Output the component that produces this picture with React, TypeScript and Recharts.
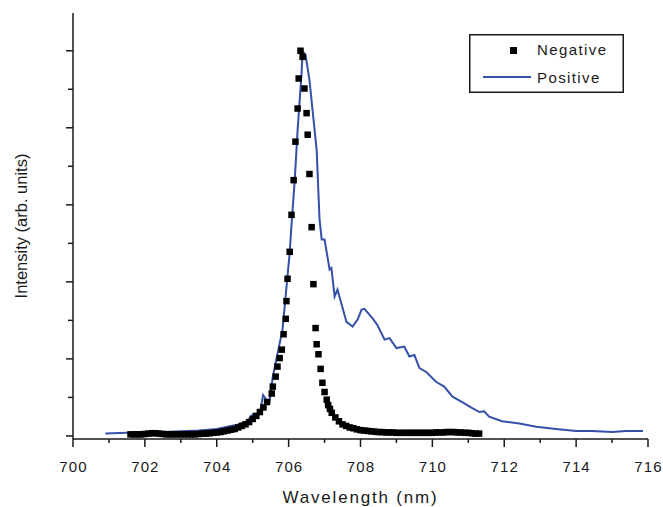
import { ComposedChart, Line, Scatter, XAxis, YAxis, Legend } from 'recharts';

// wavelength (nm) / normalised intensity
const negWl = [
  701.6, 701.7, 701.8, 701.9, 702.0, 702.1, 702.2, 702.3, 702.4, 702.5, 702.6, 702.7, 702.8, 702.9, 703.0,
  703.1, 703.2, 703.3, 703.4, 703.5, 703.6, 703.7, 703.8, 703.9, 704.0, 704.1, 704.2, 704.3, 704.4, 704.5,
  704.6, 704.7, 704.8, 704.9, 705.0, 705.1, 705.2, 705.3, 705.4, 705.53, 705.56, 705.64, 705.69, 705.75,
  705.81, 705.86, 705.92, 705.94, 705.97, 706.03, 706.08, 706.14, 706.19, 706.25, 706.28, 706.33, 706.39,
  706.44, 706.5, 706.53, 706.58, 706.64, 706.69, 706.75, 706.78, 706.83, 706.89, 706.94, 707.0, 707.06,
  707.1, 707.15, 707.2, 707.3, 707.4, 707.5, 707.6, 707.7, 707.8, 707.9, 708.0, 708.1, 708.2, 708.3, 708.4,
  708.5, 708.6, 708.7, 708.8, 708.9, 709.0, 709.1, 709.2, 709.3, 709.4, 709.5, 709.6, 709.7, 709.8, 709.9,
  710.0, 710.1, 710.2, 710.3, 710.4, 710.5, 710.6, 710.7, 710.8, 710.9, 711.0, 711.1, 711.2, 711.3,
];
const negInt = [
  0.02, 0.02, 0.02, 0.02, 0.025, 0.03, 0.035, 0.035, 0.03, 0.025, 0.02, 0.02, 0.02, 0.02, 0.02,
  0.02, 0.02, 0.02, 0.02, 0.025, 0.03, 0.03, 0.035, 0.04, 0.045, 0.05, 0.06, 0.07, 0.08, 0.09,
  0.11, 0.13, 0.15, 0.18, 0.22, 0.26, 0.31, 0.37, 0.44, 0.55, 0.64, 0.77, 0.9, 1.01,
  1.12, 1.32, 1.52, 1.75, 2.04, 2.39, 2.87, 3.32, 3.82, 4.25, 4.64, 5.0, 4.92,
  4.51, 4.19, 3.91, 3.4, 2.71, 1.97, 1.4, 1.19, 1.06, 0.87, 0.69, 0.57, 0.47,
  0.4, 0.35, 0.3, 0.24, 0.19, 0.15, 0.13, 0.11, 0.1, 0.085, 0.075, 0.07, 0.065, 0.06, 0.055,
  0.05, 0.05, 0.045, 0.045, 0.045, 0.04, 0.04, 0.04, 0.04, 0.04, 0.04, 0.04, 0.04, 0.04, 0.04,
  0.04, 0.045, 0.045, 0.045, 0.05, 0.05, 0.05, 0.045, 0.045, 0.04, 0.04, 0.035, 0.03, 0.03,
];

const posWl = [
  700.9, 701.5, 702.0, 702.5, 703.0, 703.5, 704.0, 704.3, 704.6, 704.85, 705.0, 705.14, 705.22, 705.29,
  705.38, 705.47, 705.56, 705.83, 706.03, 706.08, 706.17, 706.25, 706.36, 706.39, 706.47, 706.58, 706.78,
  706.86, 706.92, 707.0, 707.14, 707.19, 707.28, 707.36, 707.61, 707.78, 707.92, 708.03, 708.11, 708.33,
  708.47, 708.67, 708.81, 709.0, 709.22, 709.36, 709.5, 709.64, 709.83, 710.11, 710.33, 710.56, 710.83,
  711.11, 711.31, 711.44, 711.58, 711.94, 712.42, 712.89, 713.44, 714.0, 714.44, 715.0, 715.39, 715.86,
];
const posInt = [
  0.03, 0.04, 0.05, 0.05, 0.06, 0.07, 0.09, 0.12, 0.15, 0.19, 0.28, 0.27, 0.35, 0.53,
  0.47, 0.45, 0.77, 1.38, 2.38, 2.74, 3.32, 3.97, 4.71, 4.99, 4.95, 4.62, 3.71,
  2.81, 2.55, 2.55, 2.16, 2.18, 1.81, 1.9, 1.48, 1.42, 1.51, 1.64, 1.65, 1.53,
  1.44, 1.25, 1.27, 1.14, 1.16, 1.03, 1.05, 0.88, 0.83, 0.7, 0.64, 0.51, 0.44,
  0.36, 0.31, 0.32, 0.25, 0.19, 0.16, 0.12, 0.09, 0.065, 0.065, 0.05, 0.065, 0.065,
];

const wlTicks = [700, 701, 702, 703, 704, 705, 706, 707, 708, 709, 710, 711, 712, 713, 714, 715, 716];
const intTicks = [0, 0.5, 1, 1.5, 2, 2.5, 3, 3.5, 4, 4.5, 5];

const negative = negWl.map((x, i) => ({ x, y: negInt[i] }));
const positive = posWl.map((x, i) => ({ x, y: posInt[i] }));

const INK = '#1a1a1a';
const BLUE = '#3450a8';
const FONT = '"Liberation Sans", Arial, sans-serif';

const isMajorX = (v: number) => v % 2 === 0;
const isMajorY = (v: number) => Number.isInteger(v);

function BottomTick({ x, y, payload }: any) {
  const major = isMajorX(payload.value);
  return (
    <g>
      <line x1={x} x2={x} y1={y} y2={y + (major ? 8 : 4)} stroke={INK} strokeWidth={1.5} />
      {major && (
        <text x={x + 0.5} y={y + 33} textAnchor="middle" fontFamily={FONT} fontSize={15} letterSpacing={1.1} fill={INK}>
          {payload.value}
        </text>
      )}
    </g>
  );
}

function TopTick({ x, y, payload }: any) {
  const major = isMajorX(payload.value);
  return <line x1={x} x2={x} y1={y} y2={y + (major ? 7 : 3)} stroke={INK} strokeWidth={1.5} />;
}

function LeftTick({ x, y, payload }: any) {
  const major = isMajorY(payload.value);
  return <line x1={x} x2={x - (major ? 7 : 5)} y1={y} y2={y} stroke={INK} strokeWidth={1.5} />;
}

function RightTick({ x, y, payload }: any) {
  const major = isMajorY(payload.value);
  return <line x1={x} x2={x - (major ? 7 : 3)} y1={y} y2={y} stroke={INK} strokeWidth={1.5} />;
}

function Square({ cx, cy }: any) {
  return <rect x={cx - 3.25} y={cy - 3.25} width={6.5} height={6.5} fill="#000" />;
}

function LegendBox() {
  return (
    <svg width={155} height={59} style={{ display: 'block' }}>
      <rect x={0.75} y={0.75} width={153.5} height={57.5} fill="#fff" stroke={INK} strokeWidth={1.5} />
      <rect x={41} y={13} width={7} height={7} fill="#000" />
      <text x={68} y={21} fontFamily={FONT} fontSize={15} letterSpacing={1.4} fill={INK}>Negative</text>
      <line x1={14} x2={62} y1={43} y2={43} stroke={BLUE} strokeWidth={2} />
      <text x={68} y={49} fontFamily={FONT} fontSize={15} letterSpacing={1.4} fill={INK}>Positive</text>
    </svg>
  );
}

export default function App() {
  const axisLine = { stroke: INK, strokeWidth: 1.5 };
  // fixed at the window origin so the page never overflows (no scrollbars)
  return (
    <div style={{ position: 'fixed', left: 0, top: 0, width: 663, height: 507, background: '#fff' }}>
      <ComposedChart width={663} height={507} margin={{ top: 13, right: 15, left: 0, bottom: 0 }}>
        <XAxis
          xAxisId="b"
          dataKey="x"
          type="number"
          domain={[700, 716]}
          allowDataOverflow
          ticks={wlTicks}
          interval={0}
          height={68}
          tickSize={0}
          tickMargin={0}
          tickLine={false}
          axisLine={axisLine}
          tick={<BottomTick />}
          label={{
            value: 'Wavelength (nm)',
            position: 'insideBottom',
            offset: 4,
            style: { fontFamily: FONT, fontSize: 17, letterSpacing: 1.8, fill: INK },
          }}
        />
        <XAxis
          xAxisId="t"
          dataKey="x"
          type="number"
          orientation="top"
          domain={[700, 716]}
          allowDataOverflow
          ticks={wlTicks}
          interval={0}
          height={0}
          tickSize={0}
          tickMargin={0}
          tickLine={false}
          axisLine={axisLine}
          tick={<TopTick />}
        />
        <YAxis
          yAxisId="l"
          type="number"
          domain={[-0.04, 5.49]}
          allowDataOverflow
          ticks={intTicks}
          interval={0}
          width={73}
          tickSize={0}
          tickMargin={0}
          tickLine={false}
          axisLine={axisLine}
          tick={<LeftTick />}
          label={{
            value: 'Intensity (arb. units)',
            angle: -90,
            position: 'insideLeft',
            offset: 21,
            style: { textAnchor: 'middle', fontFamily: FONT, fontSize: 16.5, fill: INK },
          }}
        />
        <YAxis
          yAxisId="r"
          type="number"
          orientation="right"
          domain={[-0.04, 5.49]}
          allowDataOverflow
          ticks={intTicks}
          interval={0}
          width={0}
          tickSize={0}
          tickMargin={0}
          tickLine={false}
          axisLine={axisLine}
          tick={<RightTick />}
        />
        <Legend
          layout="vertical"
          align="center"
          verticalAlign="middle"
          wrapperStyle={{ left: 469, top: 34, width: 155, height: 59 }}
          content={() => <LegendBox />}
        />
        <Line
          xAxisId="b"
          yAxisId="l"
          data={positive}
          dataKey="y"
          name="Positive"
          type="linear"
          stroke={BLUE}
          strokeWidth={2}
          dot={false}
          activeDot={false}
          isAnimationActive={false}
        />
        <Scatter
          xAxisId="b"
          yAxisId="l"
          data={negative}
          dataKey="y"
          name="Negative"
          shape={<Square />}
          isAnimationActive={false}
        />
      </ComposedChart>
    </div>
  );
}
